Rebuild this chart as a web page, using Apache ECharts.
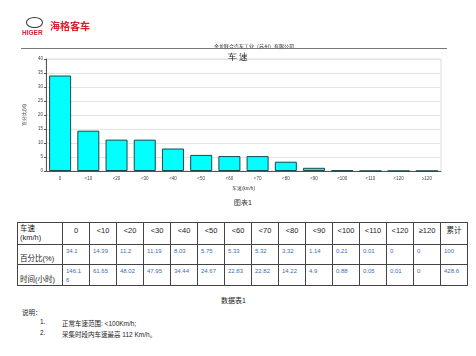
<!DOCTYPE html>
<html>
  <head>
    <meta charset="utf-8">
    <title></title>
    <style>
      body{margin:0;width:476px;height:356px;background:#fff;position:relative;overflow:hidden;
        font-family:"Liberation Sans","Noto Sans CJK SC",sans-serif;color:#222;}
      .abs{position:absolute;white-space:nowrap;}
      #chart{position:absolute;left:0;top:0;width:476px;height:210px;}
      #logo{left:26px;top:17px;width:15px;height:9px;border:1.5px solid #333;border-radius:50%;}
      #brand{left:50px;top:18px;font-size:10px;font-weight:bold;color:#d8202a;}
      #higer{left:22px;top:29px;font-size:6.5px;font-weight:bold;color:#d8202a;}
      #company{left:214px;top:42px;font-size:5px;}
      #rule{left:21px;top:48px;width:426px;height:1px;background:#777;}
      #tbl{position:absolute;left:17px;top:222px;border-collapse:collapse;table-layout:fixed;}
      #tbl td{border:1px solid #444;height:17px;padding:1px 2px;font-size:7.5px;vertical-align:top;
        line-height:9px;width:22px;overflow:hidden;}
      #tbl td.h{text-align:center;padding-top:3px;}
      #tbl td.lab{width:40px;text-align:left;font-size:7.5px;}
      #tbl td.v{color:#3b6fb3;font-size:6px;padding:2px 5px 0 3px;width:18px;word-break:break-all;}
      #tbl td.lab.b{vertical-align:bottom;padding-bottom:1px;}
      .note{font-size:6.5px;}
    </style>
    <script src="https://cdn.jsdelivr.net/npm/echarts@6/dist/echarts.min.js"></script>
  </head>
  <body>
    <div id="chart"></div>
    <div id="logo" class="abs"></div>
    <div id="brand" class="abs">海格客车</div>
    <div id="higer" class="abs">HIGER</div>
    <div id="company" class="abs">金龙联合汽车工业（苏州）有限公司</div>
    <div id="rule" class="abs"></div>
    <table id="tbl"></table>
    <div class="abs note" style="left:221px;top:295px;font-size:7px;">数据表1</div>
    <div class="abs note" style="left:22px;top:307px;">说明：</div>
    <div class="abs note" style="left:40px;top:318px;">1.</div>
    <div class="abs note" style="left:62px;top:318px;">正常车速范围: &lt;100Km/h;</div>
    <div class="abs note" style="left:40px;top:329px;">2.</div>
    <div class="abs note" style="left:62px;top:329px;">采集时段内车速最高 112 Km/h。</div>
    <script>
      // 车速分布
      var speeds = ['0', '<10', '<20', '<30', '<40', '<50', '<60', '<70', '<80', '<90', '<100', '<110', '<120', '≥120'];
      var percent = [34.1, 14.39, 11.2, 11.19, 8.03, 5.75, 5.33, 5.32, 3.32, 1.14, 0.21, 0.01, 0, 0];
      var hours = [146.16, 61.65, 48.02, 47.95, 34.44, 24.67, 22.83, 22.82, 14.22, 4.9, 0.88, 0.05, 0.01, 0];
      var totalPercent = 100;
      var totalHours = 428.6;

      var chart = echarts.init(document.getElementById('chart'));
      var option = {
        animation: false,
        title: [
          {text: '车 速', left: 'center', top: 48, textStyle: {fontSize: 9, fontWeight: 'normal', color: '#222'}},
          {text: '图表1', left: 229, top: 195, textStyle: {fontSize: 7, fontWeight: 'normal', color: '#222'}}
        ],
        grid: {left: 46, top: 59, width: 395, height: 112, show: true, borderColor: '#ddd', borderWidth: 1},
        xAxis: {
          type: 'category',
          data: speeds,
          name: '车速(km/h)',
          nameLocation: 'middle',
          nameGap: 15,
          nameTextStyle: {fontSize: 4.5, color: '#333'},
          axisTick: {show: false},
          axisLine: {lineStyle: {color: '#555', width: 1}},
          axisLabel: {fontSize: 4.5, color: '#444', margin: 5, interval: 0}
        },
        yAxis: {
          type: 'value',
          min: 0, max: 40, interval: 5,
          name: '百分比(%)',
          nameLocation: 'middle',
          nameGap: 14,
          nameTextStyle: {fontSize: 4.5, color: '#333'},
          axisLine: {show: true, lineStyle: {color: '#555', width: 1}},
          axisTick: {show: true, length: 2, lineStyle: {color: '#555'}},
          axisLabel: {fontSize: 4.5, color: '#444', margin: 3},
          splitLine: {lineStyle: {color: '#e4e4e4'}}
        },
        series: [{
          type: 'bar',
          data: percent,
          barCategoryGap: '22%',
          itemStyle: {color: '#00ffff', borderColor: '#174848', borderWidth: 1}
        }]
      };
      chart.setOption(option);

      // 数据表
      var tbl = document.getElementById('tbl');
      var html = '<tr><td class="lab">车速<br>(km/h)</td>';
      speeds.forEach(function (s) { html += '<td class="h">' + s.replace('<', '&lt;') + '</td>'; });
      html += '<td class="h">累计</td></tr>';
      html += '<tr><td class="lab b">百分比(%)</td>';
      percent.forEach(function (v) { html += '<td class="v">' + v + '</td>'; });
      html += '<td class="v">' + totalPercent + '</td></tr>';
      html += '<tr><td class="lab b">时间(小时)</td>';
      hours.forEach(function (v) { html += '<td class="v">' + v + '</td>'; });
      html += '<td class="v">' + totalHours + '</td></tr>';
      tbl.innerHTML = html;
    </script>
  </body>
</html>
